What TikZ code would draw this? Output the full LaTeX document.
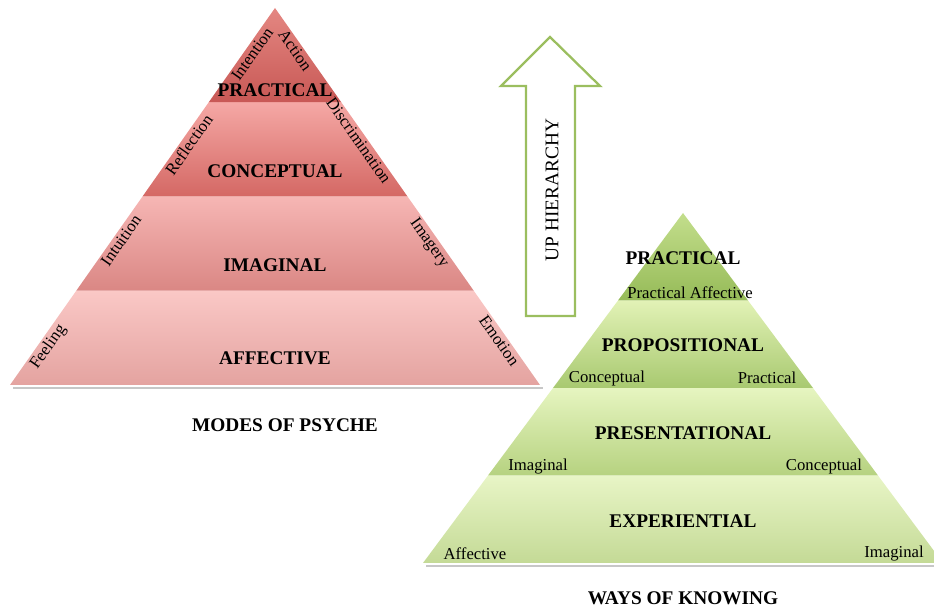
\documentclass[tikz,border=0pt]{standalone}
\usepackage{fontspec}
\setmainfont{Liberation Serif}
\usetikzlibrary{calc}

\definecolor{rpracT}{RGB}{228,135,130}
\definecolor{rpracB}{RGB}{200,88,85}
\definecolor{rconcT}{RGB}{245,168,165}
\definecolor{rconcB}{RGB}{212,104,100}
\definecolor{rimagT}{RGB}{246,182,180}
\definecolor{rimagB}{RGB}{218,135,132}
\definecolor{raffT}{RGB}{250,200,198}
\definecolor{raffB}{RGB}{228,163,160}
\definecolor{gpracT}{RGB}{195,222,140}
\definecolor{gpracB}{RGB}{150,187,88}
\definecolor{gpropT}{RGB}{226,242,182}
\definecolor{gpropB}{RGB}{168,201,112}
\definecolor{gpresT}{RGB}{230,245,192}
\definecolor{gpresB}{RGB}{182,210,128}
\definecolor{gexpT}{RGB}{232,245,198}
\definecolor{gexpB}{RGB}{196,218,150}
\definecolor{arrowgreen}{RGB}{155,190,95}

\tikzset{
  layer/.style={font=\fontsize{11}{13}\selectfont\bfseries, inner sep=0pt},
  caption/.style={font=\fontsize{11}{13}\selectfont\bfseries, inner sep=0pt},
  side/.style={font=\fontsize{9.5}{11}\selectfont, inner sep=1pt},
  shadow/.style={draw=black!22, line width=1.6pt}
}

\begin{document}
\begin{tikzpicture}[x=0.02cm,y=-0.02cm]
    \useasboundingbox (0,0) rectangle (934,607);
    \clip (0,0) rectangle (934,607);

    % modes of psyche
    \coordinate (RT) at (275,8);
    \coordinate (RL) at (10,385);
    \coordinate (RR) at (540,385);
    \draw[shadow] ($(RL)+(3,3)$) -- ($(RR)+(3,3)$);
    \shade[top color=raffT, bottom color=raffB] ($(RT)!.75!(RL)$) -- ($(RT)!.75!(RR)$) -- (RR) -- (RL) -- cycle;
    \shade[top color=rimagT, bottom color=rimagB] ($(RT)!.5!(RL)$) -- ($(RT)!.5!(RR)$) -- ($(RT)!.75!(RR)$) -- ($(RT)!.75!(RL)$) -- cycle;
    \shade[top color=rconcT, bottom color=rconcB] ($(RT)!.25!(RL)$) -- ($(RT)!.25!(RR)$) -- ($(RT)!.5!(RR)$) -- ($(RT)!.5!(RL)$) -- cycle;
    \shade[top color=rpracT, bottom color=rpracB] (RT) -- ($(RT)!.25!(RR)$) -- ($(RT)!.25!(RL)$) -- cycle;

    \node[layer] (rprac) at (275,90) {PRACTICAL};
    \node[layer] (rconc) at (275,171) {CONCEPTUAL};
    \node[layer] (rimag) at (275,265) {IMAGINAL};
    \node[layer] (raff) at (275,358) {AFFECTIVE};

    \path (RL) -- (RT)
        node[side, sloped, below, pos=.115] (feel) {Feeling}
        node[side, sloped, below, pos=.395] (intu) {Intuition}
        node[side, sloped, below, pos=.65] (refl) {Reflection}
        node[side, sloped, below, pos=.89] (inte) {Intention};
    \path (RT) -- (RR)
        node[side, sloped, below, pos=.10] (acti) {Action}
        node[side, sloped, below, pos=.34] (disc) {Discrimination}
        node[side, sloped, below, pos=.61] (imgy) {Imagery}
        node[side, sloped, below, pos=.87] (emot) {Emotion};

    \node[caption] (modes) at (285,425) {MODES OF PSYCHE};

    % up hierarchy arrow
    \draw[arrowgreen, line width=1.3pt, line join=miter] (550,37) -- (600,86) -- (575,86) -- (575,316)
        -- (526,316) -- (526,86) -- (501,86) -- cycle;
    \node[font=\fontsize{11}{13}\selectfont, rotate=90, inner sep=0pt] (up) at (552,190) {UP HIERARCHY};

    % ways of knowing
    \coordinate (GT) at (683,213);
    \coordinate (GL) at (423,563);
    \coordinate (GR) at (943,563);
    \draw[shadow] ($(GL)+(3,3)$) -- ($(GR)+(3,3)$);
    \shade[top color=gexpT, bottom color=gexpB] ($(GT)!.75!(GL)$) -- ($(GT)!.75!(GR)$) -- (GR) -- (GL) -- cycle;
    \shade[top color=gpresT, bottom color=gpresB] ($(GT)!.5!(GL)$) -- ($(GT)!.5!(GR)$) -- ($(GT)!.75!(GR)$) -- ($(GT)!.75!(GL)$) -- cycle;
    \shade[top color=gpropT, bottom color=gpropB] ($(GT)!.25!(GL)$) -- ($(GT)!.25!(GR)$) -- ($(GT)!.5!(GR)$) -- ($(GT)!.5!(GL)$) -- cycle;
    \shade[top color=gpracT, bottom color=gpracB] (GT) -- ($(GT)!.25!(GR)$) -- ($(GT)!.25!(GL)$) -- cycle;

    \node[layer] (gprac) at (683,258) {PRACTICAL};
    \node[side] (pa) at (690,293) {Practical Affective};
    \node[layer] (gprop) at (683,345) {PROPOSITIONAL};
    \node[side] (conc1) at (607,378) {Conceptual};
    \node[side] (prac1) at (767,378) {Practical};
    \node[layer] (gpres) at (683,433) {PRESENTATIONAL};
    \node[side] (imag1) at (538,467) {Imaginal};
    \node[side] (conc2) at (824,466) {Conceptual};
    \node[layer] (gexp) at (683,521) {EXPERIENTIAL};
    \node[side] (aff1) at (475,554) {Affective};
    \node[side] (imag2) at (894,554) {Imaginal};

    \node[caption] (ways) at (683,598) {WAYS OF KNOWING};
\end{tikzpicture}
\end{document}
